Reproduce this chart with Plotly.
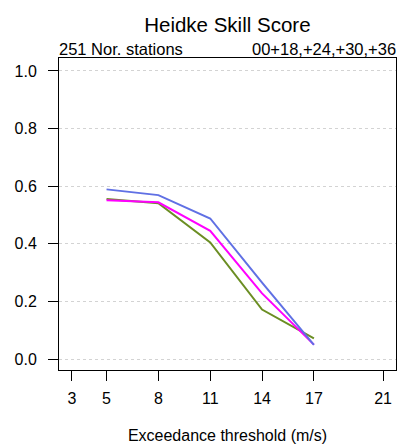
import plotly.graph_objects as go

# thresholds (m/s) and Heidke skill scores per model
thresholds = [5, 8, 11, 14, 17]
hss_blue = [0.589, 0.569, 0.488, 0.265, 0.049]
hss_magenta = [0.551, 0.544, 0.445, 0.228, 0.050]
hss_green = [0.556, 0.541, 0.405, 0.172, 0.072]

x_ticks = [3, 5, 8, 11, 14, 17, 21]
y_ticks = [0.0, 0.2, 0.4, 0.6, 0.8, 1.0]

fig = go.Figure()
fig.add_trace(go.Scatter(x=thresholds, y=hss_green, mode='lines',
                         line=dict(color='#6b8e23', width=2)))
fig.add_trace(go.Scatter(x=thresholds, y=hss_magenta, mode='lines',
                         line=dict(color='#ff00ff', width=2)))
fig.add_trace(go.Scatter(x=thresholds, y=hss_blue, mode='lines',
                         line=dict(color='#6070e4', width=2)))

fig.update_layout(
    width=406, height=444,
    margin=dict(l=59, r=10, t=58, b=74),
    plot_bgcolor='white', paper_bgcolor='white',
    showlegend=False,
    font=dict(family='Liberation Sans, Arial, sans-serif', size=16, color='black'),
    title=dict(text='Heidke Skill Score', x=0.56, xanchor='center', y=0.943, yanchor='middle',
               font=dict(size=20.5)),
    annotations=[
        dict(text='251 Nor. stations', xref='paper', yref='paper', x=0, y=1,
             xanchor='left', yanchor='bottom', showarrow=False, yshift=-2, xshift=-2,
             font=dict(size=16.5)),
        dict(text='00+18,+24,+30,+36', xref='paper', yref='paper', x=1, y=1,
             xanchor='right', yanchor='bottom', showarrow=False, yshift=-2, xshift=2,
             font=dict(size=16.5)),
    ],
)

fig.update_xaxes(
    range=[2.25, 21.75], tickvals=x_ticks, ticktext=[str(v) for v in x_ticks],
    showgrid=False, zeroline=False, automargin=False,
    showline=True, mirror=True, linecolor='black', linewidth=1,
    ticks='outside', ticklen=10, tickcolor='black', tickfont=dict(size=16),
    ticklabelstandoff=4,
    title=dict(text='Exceedance threshold (m/s)', standoff=31, font=dict(size=16)),
)
fig.update_yaxes(
    range=[-0.038, 1.045], tickvals=y_ticks, tickformat='.1f',
    showgrid=True, gridcolor='#d3d3d3', griddash='dot', gridwidth=1,
    zeroline=False, automargin=False,
    showline=True, mirror=True, linecolor='black', linewidth=1,
    ticks='outside', ticklen=10, tickcolor='black', tickfont=dict(size=16),
    ticklabelstandoff=8,
)

# drop the default page margin so the figure sits at the window's top-left corner
fig.write_html("out.html", config={'displayModeBar': False},
               post_script="document.body.style.margin='0';")
